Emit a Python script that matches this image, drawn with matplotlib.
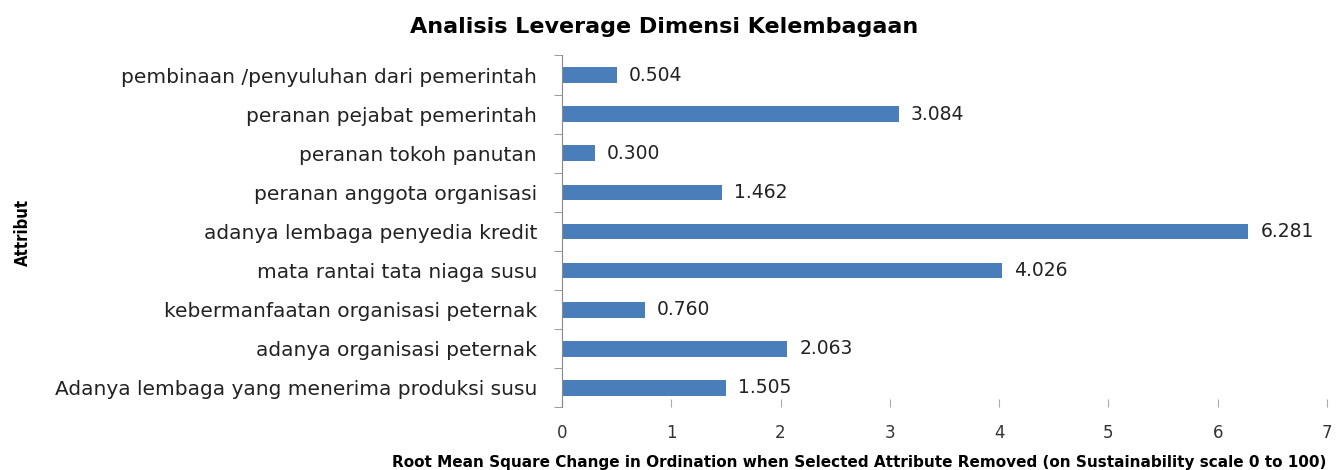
import numpy as np
import matplotlib.pyplot as plt

# data (top to bottom as in the chart)
attribut = [
    'pembinaan /penyuluhan dari pemerintah',
    'peranan pejabat pemerintah',
    'peranan tokoh panutan',
    'peranan anggota organisasi',
    'adanya lembaga penyedia kredit',
    'mata rantai tata niaga susu',
    'kebermanfaatan organisasi peternak',
    'adanya organisasi peternak',
    'Adanya lembaga yang menerima produksi susu',
]
nilai = [0.504, 3.084, 0.300, 1.462, 6.281, 4.026, 0.760, 2.063, 1.505]
x_ticks = [0, 1, 2, 3, 4, 5, 6, 7]

fig = plt.figure(figsize=(13.39, 4.70), dpi=100)
ax = fig.add_axes([0.4197, 0.133, 0.5713, 0.749])

y = np.arange(len(attribut))[::-1]
ax.barh(y, nilai, height=0.4, color='#4a7ebb')

# label nilai di ujung batang
for yi, v in zip(y, nilai):
    ax.text(v + 0.11, yi, f'{v:.3f}', va='center', ha='left',
            fontsize=13.5, color='#222222')

ax.set_xlim(0, 7)
ax.set_ylim(-0.5, len(attribut) - 0.5)
ax.set_xticks(x_ticks)
ax.set_xticklabels([str(t) for t in x_ticks], fontsize=12, color='#333333')
ax.set_yticks(y)
ax.set_yticklabels(attribut, fontsize=14.5, color='#222222')
ax.set_yticks(np.arange(-0.5, len(attribut), 1), minor=True)

ax.tick_params(axis='y', which='major', length=0, pad=18)
ax.tick_params(axis='y', which='minor', length=6, color='#888888')
ax.tick_params(axis='x', length=6, color='#aaaaaa', pad=12, direction='in')

for s in ['top', 'right', 'bottom']:
    ax.spines[s].set_visible(False)
ax.spines['left'].set_color('#888888')

fig.text(0.496, 0.942, 'Analisis Leverage Dimensi Kelembagaan',
         ha='center', va='center', fontsize=16, fontweight='bold')
fig.text(0.6415, 0.015,
         'Root Mean Square Change in Ordination when Selected Attribute Removed (on Sustainability scale 0 to 100)',
         ha='center', va='center', fontsize=11, fontweight='bold')
fig.text(0.017, 0.505, 'Attribut', rotation=90, ha='center', va='center',
         fontsize=12, fontweight='bold', fontstretch='condensed')

fig.savefig('out.png', dpi=100)
